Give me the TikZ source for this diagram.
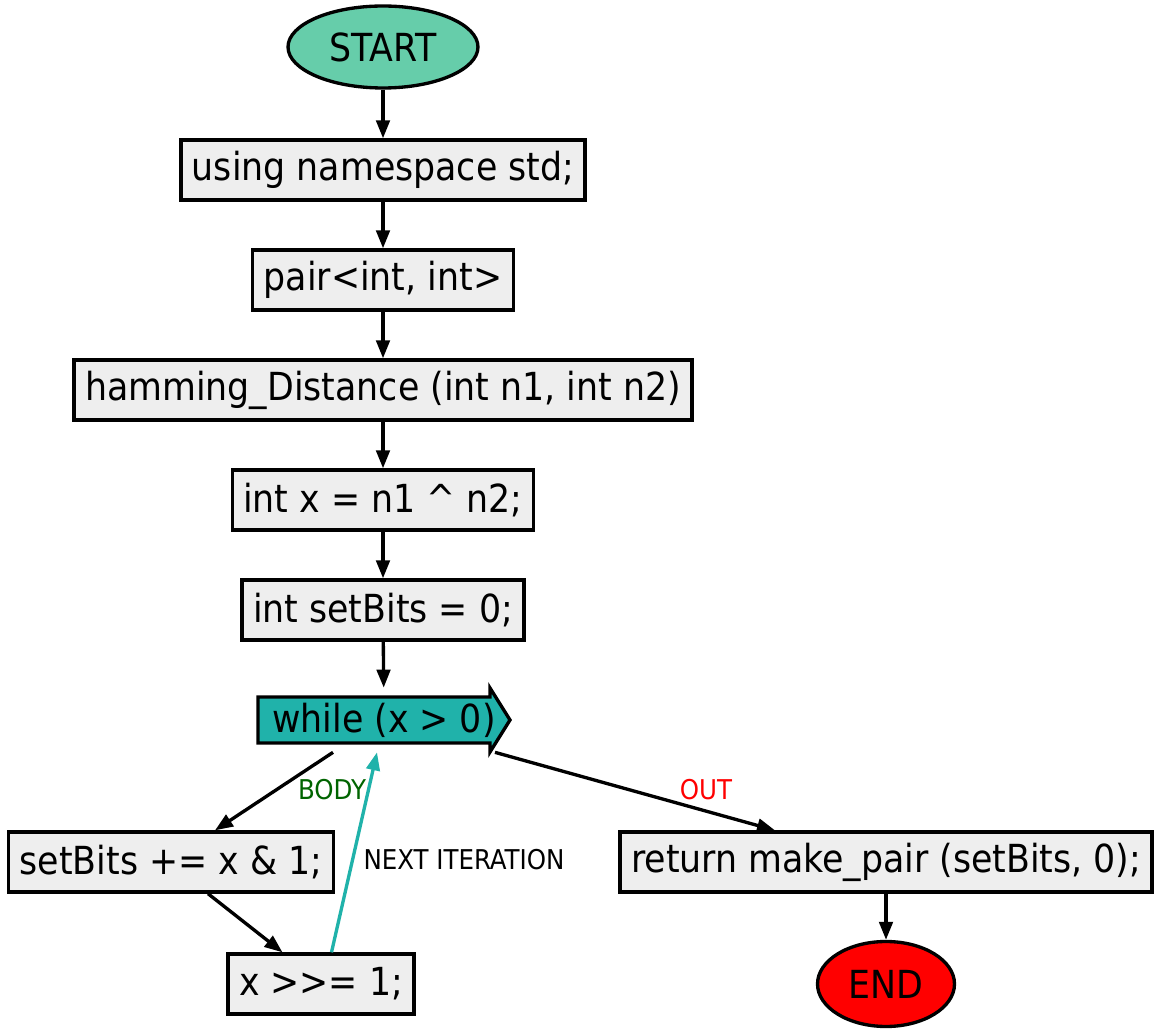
\documentclass[tikz,border=0pt]{standalone}
\usepackage{fontspec}
\setmainfont{DejaVu Sans Condensed}
\usetikzlibrary{shapes.geometric,arrows.meta}

\definecolor{startgreen}{HTML}{66CDAA}
\definecolor{loopteal}{HTML}{20B2AA}
\definecolor{boxgray}{HTML}{EEEEEE}
\definecolor{bodygreen}{HTML}{006400}

\tikzset{
    stmt/.style={draw, line width=1.9pt, fill=boxgray, minimum height=1.2cm, inner xsep=0.22cm, font=\fontsize{22}{25}\selectfont},
    terminal/.style={draw, ellipse, line width=1.9pt, font=\fontsize{22}{25}\selectfont},
    flow/.style={line width=1.9pt, -{Triangle[length=0.36cm,width=0.27cm]}},
    lbl/.style={font=\fontsize{15.5}{18}\selectfont, inner sep=0pt}
}

\begin{document}
\begin{tikzpicture}[x=0.02cm, y=-0.02cm]
    \useasboundingbox (0,0) rectangle (1164,1033);

    \node[terminal, fill=startgreen, minimum width=3.8cm, minimum height=1.64cm] (start) at (383,47) {START};
    \node[stmt] (using) at (383,170) {using namespace std;};
    \node[stmt] (pair) at (383,280) {pair<int, int>};
    \node[stmt] (hamming) at (383,390) {hamming\_Distance (int n1, int n2)};
    \node[stmt] (intx) at (383,500) {int x = n1 \textasciicircum\ n2;};
    \node[stmt] (zero) at (383,610) {int setBits = 0;};

    % the loop head is drawn as an arrow
    \draw[line width=1.9pt, fill=loopteal] (258,697) -- (490,697) -- (490,688) -- (510,720)
        -- (490,752) -- (490,743) -- (258,743) -- cycle;
    \node[minimum width=5.04cm, minimum height=1.28cm, inner sep=0pt, font=\fontsize{22}{25}\selectfont] (loop) at (384,720) {while (x > 0)};

    \node[stmt] (incr) at (171,862) {setBits += x \& 1;};
    \node[stmt] (shift) at (321,984) {x >\kern0pt>= 1;};
    \node[stmt] (ret) at (886,862) {return make\_pair (setBits, 0);};
    \node[terminal, fill=red, minimum width=2.74cm, minimum height=1.7cm] (end) at (886,984) {END};

    \draw[flow] (start) -- (using);
    \draw[flow] (using) -- (pair);
    \draw[flow] (pair) -- (hamming);
    \draw[flow] (hamming) -- (intx);
    \draw[flow] (intx) -- (zero);
    \draw[flow] (zero) -- (loop);
    \draw[flow] ([xshift=-1.02cm]loop.south) -- ([xshift=0.88cm]incr.north);
    \draw[flow] ([xshift=0.74cm]incr.south) -- ([xshift=-0.77cm]shift.north);
    \draw[flow, loopteal] ([xshift=0.21cm]shift.north) -- ([xshift=-0.14cm]loop.south);
    \draw[flow] ([xshift=2.22cm]loop.south) -- ([xshift=-2.22cm]ret.north);
    \draw[flow] (ret) -- (end);

    \node[lbl, text=bodygreen] (body) at (332,790) {BODY};
    \node[lbl] (next) at (464,860) {NEXT ITERATION};
    \node[lbl, text=red] (out) at (706,790) {OUT};
\end{tikzpicture}
\end{document}
